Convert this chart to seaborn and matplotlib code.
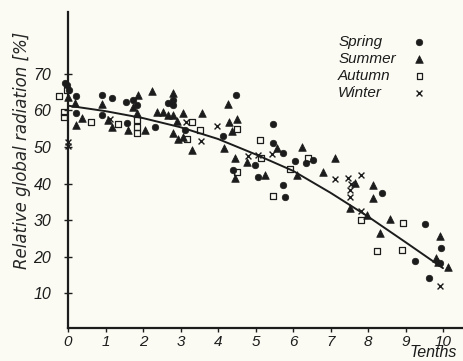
import numpy as np
import pandas as pd
import matplotlib
matplotlib.use("Agg")
import matplotlib.pyplot as plt
from matplotlib.lines import Line2D
import seaborn as sns

# ---- data ----
spring_x = [-0.08, -0.03, 0.03, 0.21, 0.21, 0.91, 1.17, 0.91, 1.55, 1.57, 1.73, 1.84, 2.32, 2.67, 2.8, 2.8,
            3.12, 4.13, 4.48, 4.99, 4.4, 5.07, 5.47, 5.47, 5.73, 5.73, 5.79, 6.05, 6.35, 6.53, 8.37, 9.52,
            9.95, 9.25, 9.92, 9.63]
spring_y = [67.5, 66.9, 65.5, 63.9, 59.3, 64.2, 63.4, 58.7, 62.3, 56.6, 62.8, 61.5, 55.5, 62.0, 62.8, 61.5,
            54.6, 53.0, 64.2, 45.1, 43.7, 41.8, 56.3, 51.1, 48.4, 39.6, 36.3, 46.2, 45.6, 46.4, 37.4, 29.0,
            22.4, 18.9, 18.3, 14.2]

summer_x = [0.0, 0.19, 0.37, 0.21, 0.91, 1.07, 1.17, 1.6, 1.73, 1.87, 1.84, 2.05, 2.24, 2.37, 2.53, 2.67,
            2.8, 2.8, 2.91, 2.8, 3.07, 3.07, 2.93, 3.31, 3.57, 4.27, 4.29, 4.51, 4.37, 4.16, 4.45, 4.45,
            4.77, 5.25, 5.57, 6.11, 6.24, 6.8, 7.12, 7.65, 8.13, 8.13, 7.52, 7.97, 8.59, 8.32, 9.92, 9.81,
            9.87, 10.13]
summer_y = [63.7, 62.0, 57.9, 56.0, 61.7, 57.4, 55.5, 54.6, 60.9, 64.2, 59.3, 54.6, 65.3, 59.6, 59.6, 58.7,
            64.8, 58.7, 57.1, 53.8, 59.3, 52.7, 52.2, 49.2, 59.3, 61.7, 56.8, 57.7, 54.4, 49.7, 47.0, 41.5,
            45.9, 42.3, 49.7, 42.3, 50.0, 43.2, 47.0, 40.2, 39.6, 36.1, 33.3, 31.4, 30.3, 26.5, 25.7, 19.7,
            18.6, 17.2]

autumn_x = [-0.24, -0.11, -0.11, -0.03, 0.61, 1.33, 1.84, 1.84, 1.84, 3.31, 3.52, 3.17, 4.51, 5.12, 5.15,
            4.51, 5.47, 5.92, 6.4, 7.81, 8.93, 8.24, 8.91]
autumn_y = [63.9, 59.6, 58.2, 65.6, 56.8, 56.3, 57.4, 55.5, 53.8, 56.8, 54.6, 52.2, 54.9, 51.9, 47.0,
            43.2, 36.6, 44.0, 47.0, 30.1, 29.2, 21.6, 21.9]

winter_x = [0.0, 0.0, 1.12, 3.15, 3.55, 3.97, 4.8, 5.07, 5.44, 7.12, 7.47, 7.81, 7.52, 7.52, 7.55, 7.81, 9.92]
winter_y = [51.5, 50.3, 57.7, 56.8, 51.6, 55.7, 47.5, 47.8, 48.1, 41.3, 41.5, 42.3, 38.3, 36.3, 39.8, 32.5, 12.0]

curve_x = [0, 1, 2, 3, 4, 5, 6, 7, 8, 9, 10]
curve_y = [61.3, 59.8, 57.9, 55.4, 52.2, 48.0, 43.5, 37.5, 31.0, 24.0, 16.9]

seasons = ["Spring", "Summer", "Autumn", "Winter"]
x_ticks = [0, 1, 2, 3, 4, 5, 6, 7, 8, 9, 10]
y_ticks = [10, 20, 30, 40, 50, 60, 70]

# ---- style ----
sns.set_style("ticks")
ink = "#1c1c1c"
bg = "#fbfbf4"
narrow = ["Liberation Sans Narrow", "Liberation Sans", "DejaVu Sans"]
regular = ["Liberation Sans", "DejaVu Sans"]
plt.rcParams["font.family"] = ["DejaVu Sans"]
plt.rcParams["text.color"] = ink
plt.rcParams["axes.edgecolor"] = ink
plt.rcParams["xtick.color"] = ink
plt.rcParams["ytick.color"] = ink

fig = plt.figure(figsize=(4.63, 3.61), dpi=100, facecolor=bg)
ax = fig.add_axes([68 / 463, 33 / 361, 395 / 463, 316 / 361])
ax.set_facecolor(bg)

frames = {
    "Spring": pd.DataFrame({"x": spring_x, "y": spring_y}),
    "Summer": pd.DataFrame({"x": summer_x, "y": summer_y}),
    "Autumn": pd.DataFrame({"x": autumn_x, "y": autumn_y}),
    "Winter": pd.DataFrame({"x": winter_x, "y": winter_y}),
}

sns.scatterplot(data=frames["Spring"], x="x", y="y", marker="o", s=22, color=ink,
                edgecolor=ink, linewidth=0.5, label=seasons[0], ax=ax, clip_on=False, zorder=3)
sns.scatterplot(data=frames["Summer"], x="x", y="y", marker="^", s=30, color=ink,
                edgecolor=ink, linewidth=0.5, label=seasons[1], ax=ax, clip_on=False, zorder=3)
sns.scatterplot(data=frames["Autumn"], x="x", y="y", marker="s", s=16, facecolor="none",
                edgecolor=ink, linewidth=0.9, label=seasons[2], ax=ax, clip_on=False, zorder=3)
sns.scatterplot(data=frames["Winter"], x="x", y="y", marker="x", s=18, color=ink,
                linewidth=1.0, label=seasons[3], ax=ax, clip_on=False, zorder=3)

sns.lineplot(x=curve_x, y=curve_y, color=ink, linewidth=1.4, ax=ax, zorder=2)

ax.set_xlim(0, 395 / 37.5)
ax.set_ylim(0.55, 0.55 + 316 / 3.66)
ax.set_xticks(x_ticks)
ax.set_xticklabels([str(t) for t in x_ticks], fontsize=11, style="italic", family=narrow)
ax.set_yticks(y_ticks)
ax.set_yticklabels([str(t) for t in y_ticks], fontsize=11.5, style="italic", family=narrow)
ax.tick_params(axis="x", direction="out", length=3, width=1.0, pad=2)
ax.tick_params(axis="y", direction="inout", length=6, width=1.0, pad=9)

for side in ["top", "right"]:
    ax.spines[side].set_visible(False)
for side in ["left", "bottom"]:
    ax.spines[side].set_linewidth(1.6)

ax.set_xlabel("")
ax.set_ylabel("Relative global radiation [%]", fontsize=12, style="italic")
ax.yaxis.set_label_coords(-0.094, 0.563)
ax.text(0.925, -0.092, "Tenths", transform=ax.transAxes, fontsize=11.5, style="italic",
        family=regular, ha="center", va="baseline", clip_on=False)

# legend: left-aligned labels, markers in a column to their right
handles, labels = ax.get_legend_handles_labels()
fp = {"style": "italic", "size": 11, "family": regular}
blank = [Line2D([], [], linestyle="none", marker="") for _ in labels]
leg_txt = ax.legend(blank, labels, loc="upper left", bbox_to_anchor=(0.684, 0.928),
                    frameon=False, handlelength=0, handletextpad=0, labelspacing=0.2,
                    borderpad=0, borderaxespad=0, prop=fp)
ax.add_artist(leg_txt)
ax.legend(handles, ["" for _ in labels], loc="upper left", bbox_to_anchor=(0.870, 0.928),
          frameon=False, handlelength=1.0, handletextpad=0, labelspacing=0.2,
          borderpad=0, borderaxespad=0, prop=fp)

fig.savefig("out.png", dpi=100, facecolor=bg)
